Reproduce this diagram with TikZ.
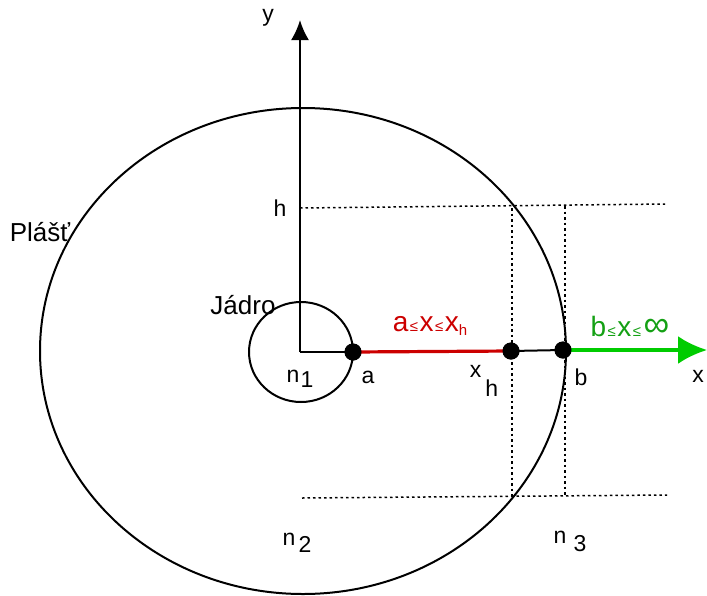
\documentclass[tikz,border=0pt]{standalone}
\usepackage{fontspec}
\setmainfont{Liberation Sans}
\usetikzlibrary{arrows.meta}
\definecolor{segred}{RGB}{204,0,0}
\definecolor{raygreen}{RGB}{0,204,0}
\definecolor{textgreen}{RGB}{20,160,20}
\tikzset{
  contour/.style={black, line width=2pt},
  axis/.style={black, line width=2.2pt, -{Latex[length=20pt,width=18pt]}},
  guide/.style={black, line width=1.5pt, dash pattern=on 2.5pt off 3pt},
  point/.style={circle, fill=black, inner sep=0pt, minimum size=17pt},
  lab/.style={font=\fontsize{23}{26}\selectfont},
  biglab/.style={font=\fontsize{26}{28}\selectfont},
  rangelab/.style={font=\fontsize{28}{30}\selectfont, inner sep=0pt},
}
\newcommand{\smallle}{\kern1.5pt{\fontsize{15}{15}\selectfont ≤}\kern1.5pt}
\begin{document}
\begin{tikzpicture}[x=1pt,y=-1pt]
  \path[use as bounding box] (0,0) rectangle (707,595);

  % shell and core
  \draw[contour] (303,351) ellipse [x radius=263, y radius=243];
  \draw[contour] (301,352) ellipse [x radius=52, y radius=50];

  % guides at height h
  \coordinate (hL) at (300,208);
  \coordinate (hR) at (665,204);
  \coordinate (mL) at (302,498);
  \coordinate (mR) at (667,495);
  \coordinate (xhT) at (512,208);
  \coordinate (xhB) at (512,498);
  \coordinate (bT) at (565,206);
  \coordinate (bB) at (565,497);
  \draw[guide] (hL) -- (hR);
  \draw[guide] (mL) -- (mR);
  \draw[guide] (xhT) -- (xhB);
  \draw[guide] (bT) -- (bB);

  % axes
  \coordinate (O) at (300,352);
  \coordinate (ytip) at (300,20);
  \coordinate (xtip) at (707,350);
  \draw[axis] (O) -- (ytip);

  \node[point] (pa) at (353,352) {};
  \node[point] (pxh) at (511,351) {};
  \node[point] (pb) at (563,350) {};
  \draw[contour] (O) -- (pa.center);
  \draw[segred, line width=3.2pt] (pa.center) -- (pxh.center);
  \draw[contour] (pxh.center) -- (pb.center);
  \draw[raygreen, line width=3.4pt, -{Latex[length=29pt,width=28pt]}]
    (pb.center) -- (xtip);
  \node[point] at (pa) {};
  \node[point] at (pxh) {};
  \node[point] at (pb) {};

  % labels
  \node[lab] (ly) at (268,18) {y};
  \node[lab] (lx) at (698,376) {x};
  \node[lab] (lh) at (280,208) {h};
  \node[biglab] (lshell) at (40,232) {Plášť};
  \node[biglab] (lcore) at (243,305) {Jádro};
  \node[lab] (ln1) at (300,379) {n\kern1pt\raisebox{-5pt}{1}};
  \node[lab] (la) at (368,377) {a};
  \node[lab] (lxh) at (484,381) {x\kern4pt\raisebox{-19pt}{h}};
  \node[lab] (lb) at (581,377) {b};
  \node[lab] (ln2) at (297,543) {n\kern3pt\raisebox{-7pt}{2}};
  \node[lab] (ln3) at (570,541) {n\kern7pt\raisebox{-8pt}{3}};

  \node[rangelab, text=segred] (lin) at (430,326)
    {a\smallle x\smallle x\raisebox{-4pt}{\fontsize{15}{15}\selectfont h}};
  \node[rangelab, text=textgreen] (lout) at (630,326)
    {b\smallle x\smallle\kern1pt{\fontsize{36}{36}\selectfont ∞}};
\end{tikzpicture}
\end{document}
